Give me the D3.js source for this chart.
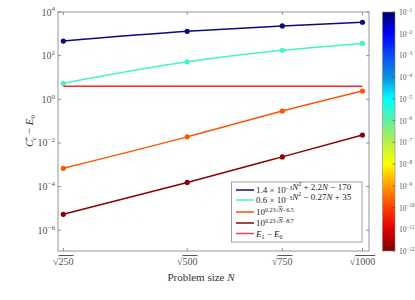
<!DOCTYPE html>
<html>
<head>
<meta charset="utf-8">
<script src="https://cdn.jsdelivr.net/npm/d3@7"></script>
<style>
  body { margin: 0; background: #fff; }
  svg text { font-family: "Liberation Serif", "DejaVu Serif", serif; }
</style>
</head>
<body>
<div id="chart"></div>
<script>
const width = 415;
const height = 300;

// problem sizes (x axis is sqrt(N))
const sizes = [250, 500, 750, 1000];

// values
const quadFit = [467, 1300, 2300, 3400];
const quadFit2 = [5.4, 52, 175, 365];
const expFitA = [0.00069, 0.019, 0.29, 2.4];
const expFitB = [0.0000054, 0.000155, 0.0023, 0.023];
const gapE = [4, 4, 4, 4];

const yTicks = [-6, -4, -2, 0, 2, 4];
const cbTicks = [-1, -2, -3, -4, -5, -6, -7, -8, -9, -10, -11, -12];

const cmap = ["#00006e", "#0000ff", "#0a4cf5", "#0a90e0", "#00ffff", "#60f0a0",
    "#b8f048", "#ffff00", "#ff9a00", "#ff4000", "#e00000", "#7a0000"];

const series = [
    { name: "quad", values: quadFit, color: "#0a0a80", marker: true },
    { name: "quad2", values: quadFit2, color: "#44f4c6", marker: true },
    { name: "expA", values: expFitA, color: "#ff5500", marker: true },
    { name: "expB", values: expFitB, color: "#8b0000", marker: true },
    { name: "gap", values: gapE, color: "#ff2828", marker: false }
];

const svg = d3.select("#chart")
    .append("svg")
    .attr("width", width)
    .attr("height", height);

const x = d3.scaleLinear()
    .domain([15.53, 31.97])
    .range([58, 369]);

const y = d3.scaleLog()
    .domain([Math.pow(10, -6.95), 1e4])
    .range([251, 12]);

const axisColor = "#bdbdbd";
const labelColor = "#555";

// frame
svg.append("rect")
    .attr("x", 58).attr("y", 12)
    .attr("width", 311).attr("height", 239)
    .attr("fill", "none")
    .attr("stroke", axisColor)
    .attr("stroke-width", 1.6);

function pow10(sel, exp, size) {
    sel.append("tspan").text("10");
    sel.append("tspan")
        .attr("dy", -size * 0.42)
        .attr("font-size", size * 0.7)
        .text(exp < 0 ? "\u2212" + (-exp) : exp);
}

// y ticks
yTicks.forEach(e => {
    const yy = y(Math.pow(10, e));
    svg.append("line").attr("x1", 58).attr("x2", 61).attr("y1", yy).attr("y2", yy)
        .attr("stroke", "#777").attr("stroke-width", 0.8);
    svg.append("line").attr("x1", 366).attr("x2", 369).attr("y1", yy).attr("y2", yy)
        .attr("stroke", "#777").attr("stroke-width", 0.8);
    const t = svg.append("text")
        .attr("x", 55).attr("y", yy + 3.5)
        .attr("text-anchor", "end")
        .attr("font-size", 10)
        .attr("fill", labelColor);
    pow10(t, e, 10);
});

// x ticks
sizes.forEach(n => {
    const xx = x(Math.sqrt(n));
    svg.append("line").attr("x1", xx).attr("x2", xx).attr("y1", 251).attr("y2", 248)
        .attr("stroke", "#777").attr("stroke-width", 0.8);
    svg.append("line").attr("x1", xx).attr("x2", xx).attr("y1", 12).attr("y2", 15)
        .attr("stroke", "#777").attr("stroke-width", 0.8);
    const t = svg.append("text")
        .attr("x", xx).attr("y", 265)
        .attr("text-anchor", "middle")
        .attr("font-size", 10)
        .attr("fill", labelColor);
    t.append("tspan").text("\u221A");
    t.append("tspan").style("text-decoration", "overline").text(n);
});

// axis labels
const xl = svg.append("text")
    .attr("x", 201).attr("y", 281)
    .attr("text-anchor", "middle")
    .attr("font-size", 11)
    .attr("fill", "#333");
xl.append("tspan").text("Problem size ");
xl.append("tspan").attr("font-style", "italic").text("N");

const yl = svg.append("text")
    .attr("transform", "translate(33,131) rotate(-90)")
    .attr("text-anchor", "middle")
    .attr("font-size", 11)
    .attr("fill", "#333");
yl.append("tspan").attr("font-style", "italic").text("C");
yl.append("tspan").attr("font-size", 7).attr("dy", -4).attr("dx", -1).text("*");
yl.append("tspan").attr("font-size", 7).attr("font-style", "italic").attr("dy", 7).attr("dx", -3).text("c");
yl.append("tspan").attr("dy", -3).text(" \u2212 ");
yl.append("tspan").attr("font-style", "italic").text("E");
yl.append("tspan").attr("font-size", 7).attr("dy", 2).text("0");

// lines
const line = d3.line()
    .x((d, i) => x(Math.sqrt(sizes[i])))
    .y(d => y(d))
    .curve(d3.curveMonotoneX);

series.forEach(s => {
    svg.append("path")
        .datum(s.values)
        .attr("d", line)
        .attr("fill", "none")
        .attr("stroke", s.color)
        .attr("stroke-width", 1.5);
    if (s.marker) {
        svg.selectAll(null)
            .data(s.values)
            .enter()
            .append("circle")
            .attr("cx", (d, i) => x(Math.sqrt(sizes[i])))
            .attr("cy", d => y(d))
            .attr("r", 2.6)
            .attr("fill", s.color);
    }
});

// legend
const lg = svg.append("g");
lg.append("rect")
    .attr("x", 231.5).attr("y", 182)
    .attr("width", 130.5).attr("height", 60)
    .attr("fill", "#fff")
    .attr("stroke", "#888")
    .attr("stroke-width", 0.8);

const legendRows = [190, 200, 212, 223, 233.5];
const legendColors = ["#0a0a80", "#44f4c6", "#ff5500", "#8b0000", "#ff4040"];
legendRows.forEach((ly, i) => {
    lg.append("line")
        .attr("x1", 236).attr("x2", 254).attr("y1", ly).attr("y2", ly)
        .attr("stroke", legendColors[i]).attr("stroke-width", 1.5);
});

function it(t, s) { t.append("tspan").attr("font-style", "italic").text(s); }
function sup(t, s, fs) { return t.append("tspan").attr("font-size", fs).attr("dy", -3.5).text(s); }

let t = lg.append("text").attr("x", 256).attr("y", legendRows[0] + 3).attr("font-size", 9).attr("fill", "#222");
t.append("tspan").text("1.4 \u00D7 10");
sup(t, "\u22123", 6);
t.append("tspan").attr("dy", 3.5);
it(t, "N");
t.append("tspan").attr("font-size", 6).attr("dy", -3.5).text("2");
t.append("tspan").attr("dy", 3.5).text(" + 2.2");
it(t, "N");
t.append("tspan").text(" \u2212 170");

t = lg.append("text").attr("x", 256).attr("y", legendRows[1] + 3).attr("font-size", 9).attr("fill", "#222");
t.append("tspan").text("0.6 \u00D7 10");
sup(t, "\u22123", 6);
t.append("tspan").attr("dy", 3.5);
it(t, "N");
t.append("tspan").attr("font-size", 6).attr("dy", -3.5).text("2");
t.append("tspan").attr("dy", 3.5).text(" \u2212 0.27");
it(t, "N");
t.append("tspan").text(" + 35");

["\u22126.5", "\u22128.7"].forEach((c, k) => {
    const tt = lg.append("text").attr("x", 256).attr("y", legendRows[2 + k] + 3).attr("font-size", 9).attr("fill", "#222");
    tt.append("tspan").text("10");
    tt.append("tspan").attr("font-size", 6).attr("dy", -3.5).text("0.23\u221A");
    tt.append("tspan").attr("font-size", 6).attr("font-style", "italic").style("text-decoration", "overline").text("N");
    tt.append("tspan").attr("font-size", 6).text(c);
});

t = lg.append("text").attr("x", 256).attr("y", legendRows[4] + 3).attr("font-size", 9).attr("fill", "#222");
it(t, "E");
t.append("tspan").attr("font-size", 6).attr("dy", 2).text("1");
t.append("tspan").attr("dy", -2).text(" \u2212 ");
it(t, "E");
t.append("tspan").attr("font-size", 6).attr("dy", 2).text("0");

// colorbar
const cb = d3.scaleLog()
    .domain([1e-12, 1e-1])
    .range([251, 12]);

const grad = svg.append("defs").append("linearGradient")
    .attr("id", "cbar")
    .attr("x1", 0).attr("y1", 0).attr("x2", 0).attr("y2", 1);
grad.selectAll("stop")
    .data(cmap)
    .enter()
    .append("stop")
    .attr("offset", (d, i) => i / (cmap.length - 1))
    .attr("stop-color", d => d);

svg.append("rect")
    .attr("x", 382.5).attr("y", 12)
    .attr("width", 12.5).attr("height", 239)
    .attr("fill", "url(#cbar)")
    .attr("stroke", "#888")
    .attr("stroke-width", 0.6);

cbTicks.forEach(e => {
    const yy = cb(Math.pow(10, e));
    svg.append("line").attr("x1", 392.5).attr("x2", 395).attr("y1", yy).attr("y2", yy)
        .attr("stroke", "#444").attr("stroke-width", 0.6);
    const tt = svg.append("text")
        .attr("x", 399).attr("y", yy + 3)
        .attr("font-size", 7.5)
        .attr("fill", labelColor);
    pow10(tt, e, 7.5);
});
</script>
</body>
</html>
